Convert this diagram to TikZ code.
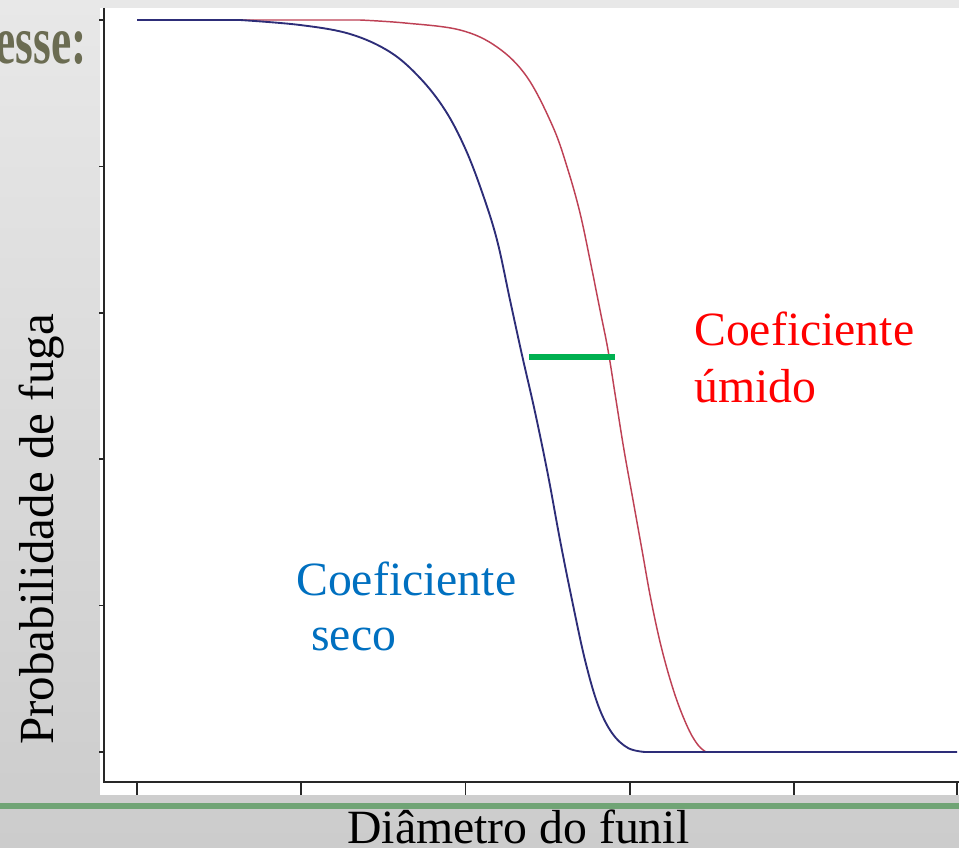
\documentclass[tikz,border=0pt]{standalone}
\usepackage{fontspec}
\setmainfont{Liberation Serif}
\definecolor{bgtop}{RGB}{232,232,232}
\definecolor{bgbot}{RGB}{204,204,204}
\definecolor{bandgreen}{RGB}{112,164,117}
\definecolor{axisgray}{RGB}{40,40,40}
\definecolor{curveblue}{RGB}{45,45,120}
\definecolor{curvered}{RGB}{190,65,85}
\definecolor{markgreen}{RGB}{0,176,80}
\definecolor{txtred}{RGB}{255,0,0}
\definecolor{txtblue}{RGB}{0,112,192}
\definecolor{headolive}{RGB}{107,108,82}
\begin{document}
\begin{tikzpicture}[x=0.75pt,y=-0.75pt,
  axisline/.style={draw=axisgray,line width=1.5pt},
  tickline/.style={draw=axisgray,line width=1.1pt},
  bluecurve/.style={draw=curveblue,line width=1.4pt,line join=round},
  redcurve/.style={draw=curvered,line width=1.1pt,line join=round},
  lbl/.style={inner sep=0pt,anchor=base west,font=\fontsize{35.8}{42}\selectfont}]
\useasboundingbox (0,0) rectangle (959,848);
\shade[top color=bgtop,bottom color=bgbot] (0,0) rectangle (959,848);
\fill[white] (100,8) rectangle (959,795);
\fill[bandgreen] (0,803) rectangle (959,809);
% axes
\draw[axisline] (104,8) -- (104,782) -- (959,782);
\foreach \yy in {20,166.4,312.8,459.2,605.6,752} \draw[tickline] (99,\yy) -- (104,\yy);
\foreach \xx in {137,301,465.5,630,794,957} \draw[tickline] (\xx,782) -- (\xx,795);
% red curve (wet)
\draw[redcurve] (223,20) -- (360,20) plot[smooth,tension=0.6] coordinates {(360,20) (405,23) (460,30) (497,47) (527,77) (553,127) (568,170) (580,213) (590,260) (600,310) (608,350) (616,400) (624,450) (633,500) (642,550) (651,600) (662,650) (675,695) (688,728) (698,745) (706,752)};
% blue curve (dry)
\draw[bluecurve] (137,20) -- (240,20) plot[smooth,tension=0.6] coordinates {(240,20) (300,25) (350,34) (390,52) (420,78) (445,110) (465,148) (482,192) (497,240) (510,300) (522,355) (535,412) (548,475) (560,540) (572,600) (585,660) (598,705) (612,733) (628,748) (645,752)} -- (957,752);
% green marker
\draw[markgreen,line width=4.5pt] (529,357) -- (615,357);
% labels
\node[lbl,text=txtred] (umidoA) at (694,345) {Coeficiente};
\node[lbl,text=txtred] (umidoB) at (694,402) {úmido};
\node[lbl,text=txtblue] (secoA) at (296,595) {Coeficiente};
\node[lbl,text=txtblue] (secoB) at (311,650) {seco};
\node[lbl] (xlab) at (347,843) {Diâmetro do funil};
\node[lbl,rotate=90,font=\fontsize{36.8}{42}\selectfont] (ylab) at (53,745) {Probabilidade de fuga};
\node[inner sep=0pt,anchor=base east,xscale=0.67,text=headolive,font=\fontsize{51}{60}\selectfont\bfseries] (head) at (87,64) {esse:};
\end{tikzpicture}
\end{document}
